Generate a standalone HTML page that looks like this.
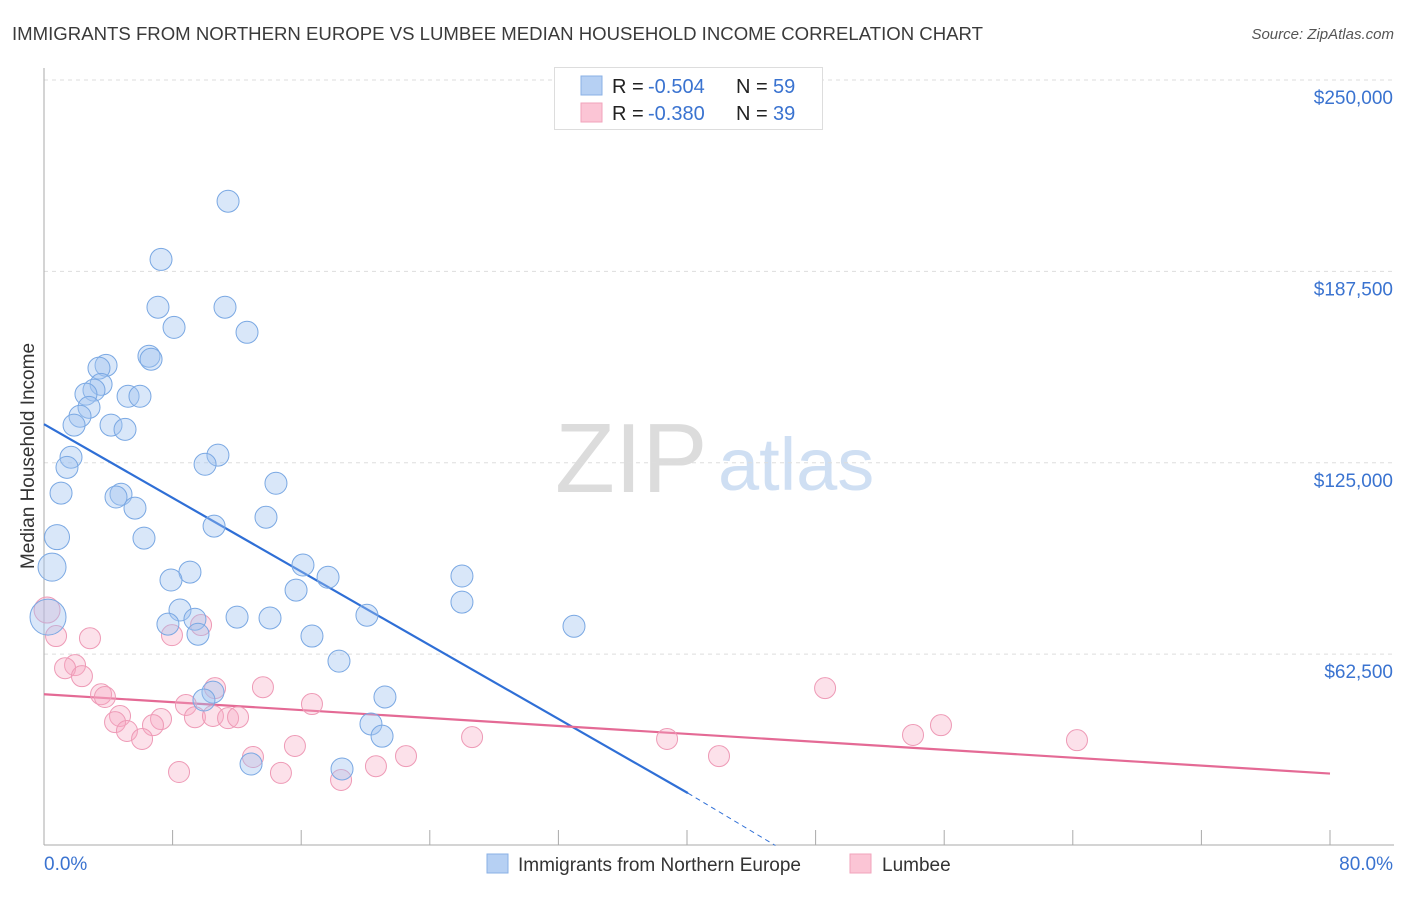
<!DOCTYPE html>
<html><head><meta charset="utf-8"><style>
body{margin:0;background:#fff;font-family:"Liberation Sans",sans-serif;}
svg text{font-family:"Liberation Sans",sans-serif;}
</style></head><body>
<svg id="chart" width="1406" height="892" xmlns="http://www.w3.org/2000/svg">
<text x="12" y="40" font-size="18" fill="#3a3a3a" textLength="971" lengthAdjust="spacingAndGlyphs">IMMIGRANTS FROM NORTHERN EUROPE VS LUMBEE MEDIAN HOUSEHOLD INCOME CORRELATION CHART</text>
<text x="1394" y="39" font-size="15" fill="#555" font-style="italic" text-anchor="end">Source: ZipAtlas.com</text>
<g>
<text x="555" y="492" font-size="98" font-family="Liberation Serif" fill="#dcdcdc">ZIP</text>
<text x="718" y="490" font-size="74" fill="#cfdff3">atlas</text>
</g>
<g id="grid"></g>
<g id="axes"></g>
<g id="trends"></g>
<g id="pts"></g>
<text transform="translate(34,456) rotate(-90)" font-size="19" fill="#333" text-anchor="middle">Median Household Income</text>
<g>
<rect x="554.5" y="67.5" width="268" height="62" fill="#fff" stroke="#ddd"/>
<rect x="581" y="76" width="21" height="19" fill="#b6d0f3" stroke="#8ab0e6"/>
<rect x="581" y="103" width="21" height="19" fill="#fbc5d5" stroke="#f1a3bb"/>
<text x="612" y="93" font-size="20" fill="#222">R =</text>
<text x="648" y="93" font-size="20" fill="#3a73d0">-0.504</text>
<text x="736" y="93" font-size="20" fill="#222">N =</text>
<text x="773" y="93" font-size="20" fill="#3a73d0">59</text>
<text x="612" y="120" font-size="20" fill="#222">R =</text>
<text x="648" y="120" font-size="20" fill="#3a73d0">-0.380</text>
<text x="736" y="120" font-size="20" fill="#222">N =</text>
<text x="773" y="120" font-size="20" fill="#3a73d0">39</text>
</g>
<g>
<rect x="487" y="854" width="21" height="19" fill="#b6d0f3" stroke="#8ab0e6"/>
<text x="518" y="871" font-size="19" fill="#333">Immigrants from Northern Europe</text>
<rect x="850" y="854" width="21" height="19" fill="#fbc5d5" stroke="#f1a3bb"/>
<text x="882" y="871" font-size="19" fill="#333">Lumbee</text>
</g>
</svg>
<script>
const yTicks=[62500,125000,187500,250000];
const yTickLabels=["$62,500","$125,000","$187,500","$250,000"];
const xTickLabels=["0.0%","80.0%"];
const blueX=[11.45,7.28,7.09,11.26,8.09,12.63,6.53,6.66,3.86,3.42,3.55,3.11,2.61,5.23,5.97,2.80,2.24,1.87,4.17,5.04,10.82,1.68,10.02,1.43,14.43,1.06,4.79,4.48,5.66,13.81,10.58,0.81,6.22,0.50,16.11,9.08,17.67,26.0,7.90,15.68,26.0,8.46,0.25,12.01,14.06,20.09,9.39,7.71,32.97,9.58,16.67,18.35,10.51,21.21,9.95,20.34,21.03,12.88,18.54];
const blueY=[210.4,191.4,175.8,175.8,169.2,167.6,159.8,158.8,156.8,155.9,150.6,148.7,147.4,146.7,146.7,143.1,140.2,137.3,137.3,135.9,127.5,126.8,124.5,123.5,118.3,115.1,114.7,113.8,110.2,107.2,104.3,100.7,100.4,90.9,91.6,89.3,87.6,88.0,86.7,83.4,79.5,76.9,74.6,74.6,74.3,75.2,73.9,72.3,71.6,69.0,68.4,60.2,50.1,48.5,47.5,39.7,35.7,26.6,25.0];
const pinkX=[0.19,0.75,2.86,7.96,9.77,1.93,1.31,2.36,3.55,3.79,10.64,13.62,48.59,8.83,16.67,4.73,4.42,5.16,7.28,6.78,6.10,9.39,10.51,11.45,12.07,15.61,13.00,22.52,26.63,38.76,41.99,54.06,55.80,64.26,8.40,14.74,18.48,20.65];
const pinkY=[76.9,68.4,67.7,68.7,72.0,58.9,57.9,55.3,49.4,48.5,51.4,51.7,51.4,45.9,46.2,42.3,40.3,37.4,41.3,39.3,34.8,41.9,42.3,41.6,41.9,32.5,28.9,29.2,35.4,34.8,29.2,36.1,39.3,34.4,24.0,23.7,21.4,25.9];
const blueTrend=[[0,137.6],[40.06,17.1],[45.5,0]];
const pinkTrend=[[0,49.4],[80,23.5]];
const X=p=>44+p/80*1286;
const Y=k=>845.5-k*1000/250000*765.5;
const NS="http://www.w3.org/2000/svg";
function mk(t,a,par){const e=document.createElementNS(NS,t);for(const k in a)e.setAttribute(k,a[k]);document.getElementById(par).appendChild(e);return e;}
yTicks.forEach((v,i)=>{
 const g=mk('line',{x1:44,x2:1394,y1:Y(v/1000),y2:Y(v/1000),stroke:'#ddd','stroke-dasharray':'4,4'},'grid');
 
 
 const t=mk('text',{x:1393,y:Y(v/1000)+24,'font-size':19,fill:'#3a73d0','text-anchor':'end'},'axes');
 t.textContent=yTickLabels[i];
 
 
});
mk('line',{x1:44,x2:44,y1:68,y2:845,stroke:'#aaa'},'axes');
mk('line',{x1:44,x2:1394,y1:845,y2:845,stroke:'#aaa'},'axes');
for(let i=1;i<=10;i++){const l=mk('line',{x1:X(i*8),x2:X(i*8),y1:830,y2:845,stroke:'#aaa'},'axes');
 
 }
const t0=mk('text',{x:44,y:870,'font-size':19,fill:'#3a73d0'},'axes');t0.textContent=xTickLabels[0];


const t1=mk('text',{x:1393,y:870,'font-size':19,fill:'#3a73d0','text-anchor':'end'},'axes');t1.textContent=xTickLabels[1];


pinkX.forEach((x,i)=>{const c=mk('circle',{cx:X(x),cy:Y(pinkY[i]),r:i==0?13:10.5,fill:'rgba(246,170,196,0.35)',stroke:'#ee9ab6','stroke-width':1},'pts');
 
 });
blueX.forEach((x,i)=>{const big=(i==42)?18:(i==33)?14:(i==31)?12.5:11;
 const c=mk('circle',{cx:X(x),cy:Y(blueY[i]),r:big,fill:'rgba(160,196,240,0.4)',stroke:'#7aa8e3','stroke-width':1},'pts');
 
 });
const b1=mk('line',{x1:X(blueTrend[0][0]),y1:Y(blueTrend[0][1]),x2:X(blueTrend[1][0]),y2:Y(blueTrend[1][1]),stroke:'#2f6fd6','stroke-width':2.2},'trends');


const b2=mk('line',{x1:X(blueTrend[1][0]),y1:Y(blueTrend[1][1]),x2:X(blueTrend[2][0]),y2:Y(blueTrend[2][1]),stroke:'#2f6fd6','stroke-width':1,'stroke-dasharray':'5,4'},'trends');


const p1=mk('line',{x1:X(pinkTrend[0][0]),y1:Y(pinkTrend[0][1]),x2:X(pinkTrend[1][0]),y2:Y(pinkTrend[1][1]),stroke:'#e46a95','stroke-width':2.2},'trends');


</script>
</body></html>
